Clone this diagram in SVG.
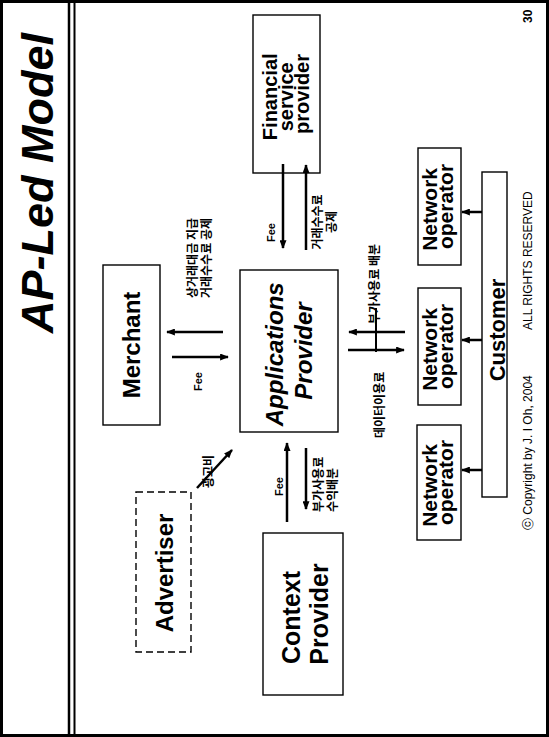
<svg xmlns="http://www.w3.org/2000/svg" width="549" height="737" viewBox="0 0 549 737">
  <defs>
    <marker id="head" viewBox="0 0 10 8" refX="9" refY="4" markerWidth="9" markerHeight="7" orient="auto" markerUnits="userSpaceOnUse">
      <path d="M0,0 L10,4 L0,8 z" fill="#000"/>
    </marker>
    <style>
      .box{fill:#fff;stroke:#000;stroke-width:1.4}
      .dash{stroke-dasharray:7 4}
      .lbl{font-family:"Liberation Sans",Arial,sans-serif;font-weight:bold;fill:#000}
      .it{font-style:italic}
      .kr{font-family:"Noto Sans CJK KR",sans-serif;font-size:12px;font-weight:bold;fill:#000}
      .arr{stroke:#000;stroke-width:2.5;fill:none;marker-end:url(#head)}
      .ln{stroke:#000;stroke-width:2;fill:none}
    </style>
  </defs>

  <!-- page, printed sideways (text reads bottom to top) -->
  <rect width="549" height="737" fill="#fff"/>
  <rect x="1.5" y="1.5" width="546" height="734" fill="none" stroke="#000" stroke-width="3"/>
  <line x1="69" y1="2" x2="69" y2="735" stroke="#000" stroke-width="2.5"/>
  <line x1="74.5" y1="2" x2="74.5" y2="735" stroke="#000" stroke-width="2"/>

  <g id="title" transform="translate(53,333) rotate(-90)">
    <text class="lbl it" x="0" y="0" font-size="45">AP-Led Model</text>
  </g>
  <g id="page-number" transform="translate(532,23) rotate(-90)">
    <text class="lbl" x="0" y="0" font-size="12">30</text>
  </g>
  <g id="footer" transform="translate(532,530) rotate(-90)">
    <text x="0" y="0" font-family="Liberation Sans, Arial, sans-serif" font-size="12">ⓒ Copyright by J. I Oh, 2004</text>
    <text x="200" y="0" font-family="Liberation Sans, Arial, sans-serif" font-size="12">ALL RIGHTS RESERVED</text>
  </g>

  <!-- nodes -->
  <g id="merchant">
    <rect class="box" x="103" y="265" width="57" height="160"/>
    <g transform="translate(140,345) rotate(-90)">
      <text class="lbl" x="0" y="0" font-size="24" text-anchor="middle">Merchant</text>
    </g>
  </g>

  <g id="applications-provider">
    <rect class="box" x="240" y="270" width="98" height="162"/>
    <g transform="translate(283,351) rotate(-90)">
      <text class="lbl it" font-size="24" text-anchor="middle">
        <tspan x="0" y="0">Applications</tspan>
        <tspan x="0" y="29">Provider</tspan>
      </text>
    </g>
  </g>

  <g id="financial-service-provider">
    <rect class="box" x="253" y="15" width="67" height="158"/>
    <g transform="translate(277,94) rotate(-90)">
      <text class="lbl" font-size="20" text-anchor="middle">
        <tspan x="0" y="0">Financial</tspan>
        <tspan x="0" y="16">service</tspan>
        <tspan x="0" y="32">provider</tspan>
      </text>
    </g>
  </g>

  <g id="context-provider">
    <rect class="box" x="263" y="533" width="80" height="162"/>
    <g transform="translate(300,614) rotate(-90)">
      <text class="lbl" font-size="25" text-anchor="middle">
        <tspan x="0" y="0">Context</tspan>
        <tspan x="0" y="28">Provider</tspan>
      </text>
    </g>
  </g>

  <g id="advertiser">
    <rect class="box dash" x="136" y="492" width="55" height="160"/>
    <g transform="translate(173,573) rotate(-90)">
      <text class="lbl" x="0" y="0" font-size="24" text-anchor="middle">Advertiser</text>
    </g>
  </g>

  <g id="network-operator-1">
    <rect class="box" x="418" y="148" width="43" height="117"/>
    <g transform="translate(437,206.5) rotate(-90)">
      <text class="lbl" font-size="21" text-anchor="middle">
        <tspan x="0" y="0">Network</tspan>
        <tspan x="0" y="16">operator</tspan>
      </text>
    </g>
  </g>

  <g id="network-operator-2">
    <rect class="box" x="418" y="288" width="43" height="117"/>
    <g transform="translate(437,346.5) rotate(-90)">
      <text class="lbl" font-size="21" text-anchor="middle">
        <tspan x="0" y="0">Network</tspan>
        <tspan x="0" y="16">operator</tspan>
      </text>
    </g>
  </g>

  <g id="network-operator-3">
    <rect class="box" x="417" y="425" width="44" height="115"/>
    <g transform="translate(437,482.5) rotate(-90)">
      <text class="lbl" font-size="21" text-anchor="middle">
        <tspan x="0" y="0">Network</tspan>
        <tspan x="0" y="16">operator</tspan>
      </text>
    </g>
  </g>

  <g id="customer">
    <rect class="box" x="482" y="172" width="25" height="325"/>
    <g transform="translate(505,330) rotate(-90)">
      <text class="lbl" x="0" y="0" font-size="22" text-anchor="middle">Customer</text>
    </g>
  </g>

  <!-- connectors and their labels -->
  <g id="connectors">
    <!-- merchant <-> applications provider -->
    <line class="arr" x1="223" y1="332" x2="167" y2="332"/>
    <line class="arr" x1="172" y1="357" x2="228" y2="357"/>
    <g transform="translate(202,391) rotate(-90)"><text class="lbl" font-size="11">Fee</text></g>
    <g transform="translate(197,298) rotate(-90)">
      <text class="kr"><tspan x="0" y="0">상거래대금 지급</tspan><tspan x="0" y="14">거래수수료 공제</tspan></text>
    </g>

    <!-- financial service provider <-> applications provider -->
    <line class="arr" x1="283" y1="164" x2="283" y2="248"/>
    <line class="arr" x1="306" y1="250" x2="306" y2="165"/>
    <g transform="translate(275,242) rotate(-90)"><text class="lbl" font-size="11">Fee</text></g>
    <g transform="translate(322,222) rotate(-90)">
      <text class="kr" text-anchor="middle"><tspan x="0" y="0">거래수수료</tspan><tspan x="0" y="14">공제</tspan></text>
    </g>

    <!-- applications provider <-> network operator -->
    <line class="arr" x1="405" y1="332" x2="349" y2="332"/>
    <line class="arr" x1="348" y1="350" x2="404" y2="350"/>
    <line class="ln" x1="376" y1="308" x2="376" y2="352"/>
    <g transform="translate(379,324) rotate(-90)"><text class="kr" font-size="13">부가사용료 배분</text></g>
    <g transform="translate(384,438) rotate(-90)"><text class="kr" font-size="13">데이터이용료</text></g>

    <!-- context provider <-> applications provider -->
    <line class="arr" x1="287" y1="522" x2="287" y2="443"/>
    <line class="arr" x1="306" y1="448" x2="306" y2="509"/>
    <g transform="translate(283,496) rotate(-90)"><text class="lbl" font-size="11">Fee</text></g>
    <g transform="translate(323,512) rotate(-90)">
      <text class="kr" font-size="13"><tspan x="0" y="0">부가사용료</tspan><tspan x="0" y="14">수익배분</tspan></text>
    </g>

    <!-- advertiser -> applications provider -->
    <line class="arr" x1="197" y1="488" x2="232" y2="450"/>
    <g transform="translate(213,488) rotate(-90)"><text class="kr" font-size="13">광고비</text></g>

    <!-- customer -> network operators -->
    <line class="arr" stroke-width="3" x1="482" y1="212" x2="462" y2="212"/>
    <line class="arr" stroke-width="3" x1="482" y1="340" x2="462" y2="340"/>
    <line class="arr" stroke-width="3" x1="482" y1="470" x2="462" y2="470"/>
  </g>
</svg>
